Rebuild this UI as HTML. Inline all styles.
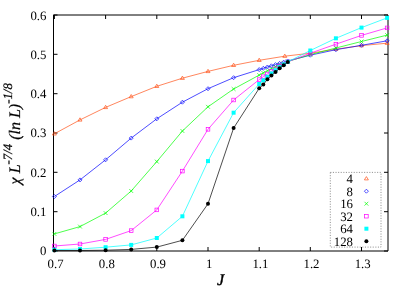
<!DOCTYPE html>
<html><head><meta charset="utf-8"><title>chart</title>
<style>html,body{margin:0;padding:0;background:#fff;}body{width:409px;height:286px;position:relative;overflow:hidden;font-family:"Liberation Serif",serif;}</style>
</head><body>
<svg width="409" height="286" viewBox="0 0 409 286" style="position:absolute;left:0;top:0;will-change:transform;opacity:0.999">
<rect width="409" height="286" fill="#fff"/>
<path d="M53.5 15.0 H388.0 V251.0 H53.5 Z" fill="none" stroke="#000" stroke-width="1"/>
<path d="M53.5 251.0 h4 M388.0 251.0 h-4 M53.5 211.7 h4 M388.0 211.7 h-4 M53.5 172.3 h4 M388.0 172.3 h-4 M53.5 133.0 h4 M388.0 133.0 h-4 M53.5 93.7 h4 M388.0 93.7 h-4 M53.5 54.3 h4 M388.0 54.3 h-4 M53.5 15.0 h4 M388.0 15.0 h-4 M54.4 251.0 v-4 M54.4 15.0 v4 M105.6 251.0 v-4 M105.6 15.0 v4 M156.8 251.0 v-4 M156.8 15.0 v4 M208.0 251.0 v-4 M208.0 15.0 v4 M259.2 251.0 v-4 M259.2 15.0 v4 M310.3 251.0 v-4 M310.3 15.0 v4 M361.5 251.0 v-4 M361.5 15.0 v4" stroke="#000" stroke-width="1" fill="none"/>
<g>
<polyline fill="none" stroke="#ff5218" stroke-width="0.70" points="54.4,133.8 80.0,119.9 105.6,107.4 131.2,96.6 156.8,86.3 182.4,78.2 208.0,71.4 233.6,65.3 259.2,60.3 284.8,56.2 310.3,53.2 335.9,49.2 361.5,45.6 387.1,43.2"/>
<path d="M54.4 131.7 L52.4 135.0 L56.4 135.0 Z" fill="none" stroke="#ff5218" stroke-width="0.7"/>
<path d="M80.0 117.8 L78.0 121.1 L82.0 121.1 Z" fill="none" stroke="#ff5218" stroke-width="0.7"/>
<path d="M105.6 105.3 L103.6 108.6 L107.6 108.6 Z" fill="none" stroke="#ff5218" stroke-width="0.7"/>
<path d="M131.2 94.5 L129.2 97.8 L133.2 97.8 Z" fill="none" stroke="#ff5218" stroke-width="0.7"/>
<path d="M156.8 84.2 L154.8 87.5 L158.8 87.5 Z" fill="none" stroke="#ff5218" stroke-width="0.7"/>
<path d="M182.4 76.1 L180.4 79.4 L184.4 79.4 Z" fill="none" stroke="#ff5218" stroke-width="0.7"/>
<path d="M208.0 69.3 L206.0 72.6 L210.0 72.6 Z" fill="none" stroke="#ff5218" stroke-width="0.7"/>
<path d="M233.6 63.2 L231.6 66.5 L235.6 66.5 Z" fill="none" stroke="#ff5218" stroke-width="0.7"/>
<path d="M259.2 58.2 L257.2 61.5 L261.2 61.5 Z" fill="none" stroke="#ff5218" stroke-width="0.7"/>
<path d="M284.8 54.1 L282.8 57.4 L286.8 57.4 Z" fill="none" stroke="#ff5218" stroke-width="0.7"/>
<path d="M310.3 51.1 L308.3 54.4 L312.3 54.4 Z" fill="none" stroke="#ff5218" stroke-width="0.7"/>
<path d="M335.9 47.1 L333.9 50.4 L337.9 50.4 Z" fill="none" stroke="#ff5218" stroke-width="0.7"/>
<path d="M361.5 43.5 L359.5 46.8 L363.5 46.8 Z" fill="none" stroke="#ff5218" stroke-width="0.7"/>
<path d="M387.1 41.1 L385.1 44.4 L389.1 44.4 Z" fill="none" stroke="#ff5218" stroke-width="0.7"/>
<polyline fill="none" stroke="#0000ff" stroke-width="0.70" points="54.4,196.5 80.0,179.9 105.6,159.8 131.2,138.1 156.8,118.8 182.4,102.2 208.0,88.7 233.6,77.7 259.2,69.6 263.3,68.3 267.4,67.0 271.4,65.8 275.5,64.6 279.6,63.4 283.7,62.2 287.8,61.0 310.3,55.2 335.9,49.7 361.5,45.3 387.1,40.8"/>
<path d="M54.4 194.5 L56.4 196.5 L54.4 198.5 L52.4 196.5 Z" fill="none" stroke="#0000ff" stroke-width="0.7"/>
<path d="M80.0 177.9 L82.0 179.9 L80.0 181.9 L78.0 179.9 Z" fill="none" stroke="#0000ff" stroke-width="0.7"/>
<path d="M105.6 157.8 L107.6 159.8 L105.6 161.8 L103.6 159.8 Z" fill="none" stroke="#0000ff" stroke-width="0.7"/>
<path d="M131.2 136.1 L133.2 138.1 L131.2 140.1 L129.2 138.1 Z" fill="none" stroke="#0000ff" stroke-width="0.7"/>
<path d="M156.8 116.8 L158.8 118.8 L156.8 120.8 L154.8 118.8 Z" fill="none" stroke="#0000ff" stroke-width="0.7"/>
<path d="M182.4 100.2 L184.4 102.2 L182.4 104.2 L180.4 102.2 Z" fill="none" stroke="#0000ff" stroke-width="0.7"/>
<path d="M208.0 86.7 L210.0 88.7 L208.0 90.7 L206.0 88.7 Z" fill="none" stroke="#0000ff" stroke-width="0.7"/>
<path d="M233.6 75.7 L235.6 77.7 L233.6 79.7 L231.6 77.7 Z" fill="none" stroke="#0000ff" stroke-width="0.7"/>
<path d="M259.2 67.6 L261.2 69.6 L259.2 71.6 L257.2 69.6 Z" fill="none" stroke="#0000ff" stroke-width="0.7"/>
<path d="M263.3 66.3 L265.3 68.3 L263.3 70.3 L261.3 68.3 Z" fill="none" stroke="#0000ff" stroke-width="0.7"/>
<path d="M267.4 65.0 L269.4 67.0 L267.4 69.0 L265.4 67.0 Z" fill="none" stroke="#0000ff" stroke-width="0.7"/>
<path d="M271.4 63.8 L273.4 65.8 L271.4 67.8 L269.4 65.8 Z" fill="none" stroke="#0000ff" stroke-width="0.7"/>
<path d="M275.5 62.6 L277.5 64.6 L275.5 66.6 L273.5 64.6 Z" fill="none" stroke="#0000ff" stroke-width="0.7"/>
<path d="M279.6 61.4 L281.6 63.4 L279.6 65.4 L277.6 63.4 Z" fill="none" stroke="#0000ff" stroke-width="0.7"/>
<path d="M283.7 60.2 L285.7 62.2 L283.7 64.2 L281.7 62.2 Z" fill="none" stroke="#0000ff" stroke-width="0.7"/>
<path d="M287.8 59.0 L289.8 61.0 L287.8 63.0 L285.8 61.0 Z" fill="none" stroke="#0000ff" stroke-width="0.7"/>
<path d="M310.3 53.2 L312.3 55.2 L310.3 57.2 L308.3 55.2 Z" fill="none" stroke="#0000ff" stroke-width="0.7"/>
<path d="M335.9 47.7 L337.9 49.7 L335.9 51.7 L333.9 49.7 Z" fill="none" stroke="#0000ff" stroke-width="0.7"/>
<path d="M361.5 43.3 L363.5 45.3 L361.5 47.3 L359.5 45.3 Z" fill="none" stroke="#0000ff" stroke-width="0.7"/>
<path d="M387.1 38.8 L389.1 40.8 L387.1 42.8 L385.1 40.8 Z" fill="none" stroke="#0000ff" stroke-width="0.7"/>
<polyline fill="none" stroke="#00ff00" stroke-width="0.70" points="54.4,233.9 80.0,226.6 105.6,213.1 131.2,191.0 156.8,161.6 182.4,131.0 208.0,106.8 233.6,89.0 259.2,75.1 263.3,72.9 267.4,70.8 271.4,68.8 275.5,66.9 279.6,65.0 283.7,63.2 287.8,61.5 310.3,54.6 335.9,48.0 361.5,41.5 387.1,35.1"/>
<path d="M52.5 232.0 L56.3 235.8 M52.5 235.8 L56.3 232.0" fill="none" stroke="#00ff00" stroke-width="0.7"/>
<path d="M78.1 224.7 L81.9 228.5 M78.1 228.5 L81.9 224.7" fill="none" stroke="#00ff00" stroke-width="0.7"/>
<path d="M103.7 211.2 L107.5 215.0 M103.7 215.0 L107.5 211.2" fill="none" stroke="#00ff00" stroke-width="0.7"/>
<path d="M129.3 189.1 L133.1 192.9 M129.3 192.9 L133.1 189.1" fill="none" stroke="#00ff00" stroke-width="0.7"/>
<path d="M154.9 159.7 L158.7 163.5 M154.9 163.5 L158.7 159.7" fill="none" stroke="#00ff00" stroke-width="0.7"/>
<path d="M180.5 129.1 L184.3 132.9 M180.5 132.9 L184.3 129.1" fill="none" stroke="#00ff00" stroke-width="0.7"/>
<path d="M206.1 104.9 L209.9 108.7 M206.1 108.7 L209.9 104.9" fill="none" stroke="#00ff00" stroke-width="0.7"/>
<path d="M231.7 87.1 L235.5 90.9 M231.7 90.9 L235.5 87.1" fill="none" stroke="#00ff00" stroke-width="0.7"/>
<path d="M257.3 73.2 L261.1 77.0 M257.3 77.0 L261.1 73.2" fill="none" stroke="#00ff00" stroke-width="0.7"/>
<path d="M261.4 71.0 L265.2 74.8 M261.4 74.8 L265.2 71.0" fill="none" stroke="#00ff00" stroke-width="0.7"/>
<path d="M265.5 68.9 L269.3 72.7 M265.5 72.7 L269.3 68.9" fill="none" stroke="#00ff00" stroke-width="0.7"/>
<path d="M269.5 66.9 L273.3 70.7 M269.5 70.7 L273.3 66.9" fill="none" stroke="#00ff00" stroke-width="0.7"/>
<path d="M273.6 65.0 L277.4 68.8 M273.6 68.8 L277.4 65.0" fill="none" stroke="#00ff00" stroke-width="0.7"/>
<path d="M277.7 63.1 L281.5 66.9 M277.7 66.9 L281.5 63.1" fill="none" stroke="#00ff00" stroke-width="0.7"/>
<path d="M281.8 61.3 L285.6 65.1 M281.8 65.1 L285.6 61.3" fill="none" stroke="#00ff00" stroke-width="0.7"/>
<path d="M285.9 59.6 L289.7 63.4 M285.9 63.4 L289.7 59.6" fill="none" stroke="#00ff00" stroke-width="0.7"/>
<path d="M308.4 52.7 L312.2 56.5 M308.4 56.5 L312.2 52.7" fill="none" stroke="#00ff00" stroke-width="0.7"/>
<path d="M334.0 46.1 L337.8 49.9 M334.0 49.9 L337.8 46.1" fill="none" stroke="#00ff00" stroke-width="0.7"/>
<path d="M359.6 39.6 L363.4 43.4 M359.6 43.4 L363.4 39.6" fill="none" stroke="#00ff00" stroke-width="0.7"/>
<path d="M385.2 33.2 L389.0 37.0 M385.2 37.0 L389.0 33.2" fill="none" stroke="#00ff00" stroke-width="0.7"/>
<polyline fill="none" stroke="#ff00ff" stroke-width="0.70" points="54.4,246.0 80.0,244.0 105.6,239.4 131.2,230.6 156.8,209.9 182.4,171.1 208.0,129.3 233.6,100.0 259.2,79.6 263.3,76.7 267.4,74.0 271.4,71.3 275.5,68.8 279.6,66.3 283.7,64.0 287.8,61.8 310.3,53.2 335.9,44.2 361.5,35.4 387.1,27.9"/>
<rect x="52.6" y="244.2" width="3.6" height="3.6" fill="none" stroke="#ff00ff" stroke-width="0.7"/>
<rect x="78.2" y="242.2" width="3.6" height="3.6" fill="none" stroke="#ff00ff" stroke-width="0.7"/>
<rect x="103.8" y="237.6" width="3.6" height="3.6" fill="none" stroke="#ff00ff" stroke-width="0.7"/>
<rect x="129.4" y="228.8" width="3.6" height="3.6" fill="none" stroke="#ff00ff" stroke-width="0.7"/>
<rect x="155.0" y="208.1" width="3.6" height="3.6" fill="none" stroke="#ff00ff" stroke-width="0.7"/>
<rect x="180.6" y="169.3" width="3.6" height="3.6" fill="none" stroke="#ff00ff" stroke-width="0.7"/>
<rect x="206.2" y="127.5" width="3.6" height="3.6" fill="none" stroke="#ff00ff" stroke-width="0.7"/>
<rect x="231.8" y="98.2" width="3.6" height="3.6" fill="none" stroke="#ff00ff" stroke-width="0.7"/>
<rect x="257.4" y="77.8" width="3.6" height="3.6" fill="none" stroke="#ff00ff" stroke-width="0.7"/>
<rect x="261.5" y="74.9" width="3.6" height="3.6" fill="none" stroke="#ff00ff" stroke-width="0.7"/>
<rect x="265.6" y="72.2" width="3.6" height="3.6" fill="none" stroke="#ff00ff" stroke-width="0.7"/>
<rect x="269.6" y="69.5" width="3.6" height="3.6" fill="none" stroke="#ff00ff" stroke-width="0.7"/>
<rect x="273.7" y="67.0" width="3.6" height="3.6" fill="none" stroke="#ff00ff" stroke-width="0.7"/>
<rect x="277.8" y="64.5" width="3.6" height="3.6" fill="none" stroke="#ff00ff" stroke-width="0.7"/>
<rect x="281.9" y="62.2" width="3.6" height="3.6" fill="none" stroke="#ff00ff" stroke-width="0.7"/>
<rect x="286.0" y="60.0" width="3.6" height="3.6" fill="none" stroke="#ff00ff" stroke-width="0.7"/>
<rect x="308.5" y="51.4" width="3.6" height="3.6" fill="none" stroke="#ff00ff" stroke-width="0.7"/>
<rect x="334.1" y="42.4" width="3.6" height="3.6" fill="none" stroke="#ff00ff" stroke-width="0.7"/>
<rect x="359.7" y="33.6" width="3.6" height="3.6" fill="none" stroke="#ff00ff" stroke-width="0.7"/>
<rect x="385.3" y="26.1" width="3.6" height="3.6" fill="none" stroke="#ff00ff" stroke-width="0.7"/>
<polyline fill="none" stroke="#00ffff" stroke-width="0.70" points="54.4,249.7 80.0,249.0 105.6,247.2 131.2,244.9 156.8,238.0 182.4,216.3 208.0,161.1 233.6,112.7 259.2,84.0 263.3,80.3 267.4,76.8 271.4,73.4 275.5,70.2 279.6,67.1 283.7,64.3 287.8,61.8 310.3,50.5 335.9,38.3 361.5,27.6 387.1,17.9"/>
<rect x="52.4" y="247.7" width="4.0" height="4.0" fill="#00ffff"/>
<rect x="78.0" y="247.0" width="4.0" height="4.0" fill="#00ffff"/>
<rect x="103.6" y="245.2" width="4.0" height="4.0" fill="#00ffff"/>
<rect x="129.2" y="242.9" width="4.0" height="4.0" fill="#00ffff"/>
<rect x="154.8" y="236.0" width="4.0" height="4.0" fill="#00ffff"/>
<rect x="180.4" y="214.3" width="4.0" height="4.0" fill="#00ffff"/>
<rect x="206.0" y="159.1" width="4.0" height="4.0" fill="#00ffff"/>
<rect x="231.6" y="110.7" width="4.0" height="4.0" fill="#00ffff"/>
<rect x="257.2" y="82.0" width="4.0" height="4.0" fill="#00ffff"/>
<rect x="261.3" y="78.3" width="4.0" height="4.0" fill="#00ffff"/>
<rect x="265.4" y="74.8" width="4.0" height="4.0" fill="#00ffff"/>
<rect x="269.4" y="71.4" width="4.0" height="4.0" fill="#00ffff"/>
<rect x="273.5" y="68.2" width="4.0" height="4.0" fill="#00ffff"/>
<rect x="277.6" y="65.1" width="4.0" height="4.0" fill="#00ffff"/>
<rect x="281.7" y="62.3" width="4.0" height="4.0" fill="#00ffff"/>
<rect x="285.8" y="59.8" width="4.0" height="4.0" fill="#00ffff"/>
<rect x="308.3" y="48.5" width="4.0" height="4.0" fill="#00ffff"/>
<rect x="333.9" y="36.3" width="4.0" height="4.0" fill="#00ffff"/>
<rect x="359.5" y="25.6" width="4.0" height="4.0" fill="#00ffff"/>
<rect x="385.1" y="15.9" width="4.0" height="4.0" fill="#00ffff"/>
<polyline fill="none" stroke="#000000" stroke-width="0.70" points="54.4,250.5 80.0,250.5 105.6,250.2 131.2,249.4 156.8,247.1 182.4,240.3 208.0,203.8 233.6,128.1 259.2,88.3 263.3,84.6 267.4,79.3 271.4,75.6 275.5,72.0 279.6,68.3 283.7,65.2 287.8,62.1"/>
<circle cx="54.4" cy="250.5" r="2.0" fill="#000000"/>
<circle cx="80.0" cy="250.5" r="2.0" fill="#000000"/>
<circle cx="105.6" cy="250.2" r="2.0" fill="#000000"/>
<circle cx="131.2" cy="249.4" r="2.0" fill="#000000"/>
<circle cx="156.8" cy="247.1" r="2.0" fill="#000000"/>
<circle cx="182.4" cy="240.3" r="2.0" fill="#000000"/>
<circle cx="208.0" cy="203.8" r="2.0" fill="#000000"/>
<circle cx="233.6" cy="128.1" r="2.0" fill="#000000"/>
<circle cx="259.2" cy="88.3" r="2.0" fill="#000000"/>
<circle cx="263.3" cy="84.6" r="2.0" fill="#000000"/>
<circle cx="267.4" cy="79.3" r="2.0" fill="#000000"/>
<circle cx="271.4" cy="75.6" r="2.0" fill="#000000"/>
<circle cx="275.5" cy="72.0" r="2.0" fill="#000000"/>
<circle cx="279.6" cy="68.3" r="2.0" fill="#000000"/>
<circle cx="283.7" cy="65.2" r="2.0" fill="#000000"/>
<circle cx="287.8" cy="62.1" r="2.0" fill="#000000"/>
</g>
<g font-family="'Liberation Serif', serif" font-size="12.8px" fill="#000" text-rendering="geometricPrecision">
<text x="46.4" y="255.2" text-anchor="end">0</text>
<text x="46.4" y="215.9" text-anchor="end">0.1</text>
<text x="46.4" y="176.7" text-anchor="end">0.2</text>
<text x="46.4" y="137.4" text-anchor="end">0.3</text>
<text x="46.4" y="98.1" text-anchor="end">0.4</text>
<text x="46.4" y="58.9" text-anchor="end">0.5</text>
<text x="46.4" y="19.6" text-anchor="end">0.6</text>
<text x="55.6" y="268" text-anchor="middle">0.7</text>
<text x="106.8" y="268" text-anchor="middle">0.8</text>
<text x="158.0" y="268" text-anchor="middle">0.9</text>
<text x="209.2" y="268" text-anchor="middle">1</text>
<text x="260.4" y="268" text-anchor="middle">1.1</text>
<text x="311.5" y="268" text-anchor="middle">1.2</text>
<text x="362.7" y="268" text-anchor="middle">1.3</text>
<text x="353" y="183.0" text-anchor="end">4</text>
<path d="M366.4 176.6 L364.4 179.9 L368.4 179.9 Z" fill="none" stroke="#ff5218" stroke-width="0.7"/>
<text x="353" y="195.5" text-anchor="end">8</text>
<path d="M366.4 189.2 L368.4 191.2 L366.4 193.2 L364.4 191.2 Z" fill="none" stroke="#0000ff" stroke-width="0.7"/>
<text x="353" y="208.0" text-anchor="end">16</text>
<path d="M364.5 201.8 L368.3 205.6 M364.5 205.6 L368.3 201.8" fill="none" stroke="#00ff00" stroke-width="0.7"/>
<text x="353" y="220.5" text-anchor="end">32</text>
<rect x="364.6" y="214.4" width="3.6" height="3.6" fill="none" stroke="#ff00ff" stroke-width="0.7"/>
<text x="353" y="233.0" text-anchor="end">64</text>
<rect x="364.4" y="226.7" width="4.0" height="4.0" fill="#00ffff"/>
<text x="353" y="245.5" text-anchor="end">128</text>
<circle cx="366.4" cy="241.2" r="2.0" fill="#000000"/>
</g>
<rect x="330.3" y="172.4" width="50.7" height="74.7" fill="none" stroke="#666" stroke-width="0.7" stroke-dasharray="1.1,1.5"/>
<text x="220.6" y="285" text-anchor="middle" font-size="16px" font-family="'Liberation Serif', serif" font-style="italic" fill="#000" stroke="#000" stroke-width="0.4" text-rendering="geometricPrecision">J</text>
<text transform="translate(20.3,184.4) rotate(-90)" font-size="16px" font-family="'Liberation Serif', serif" font-style="italic" fill="#000" stroke="#000" stroke-width="0.22" text-rendering="geometricPrecision">χ L<tspan font-size="12.8px" dy="-8.6">-7/4</tspan><tspan dy="8.6"> (ln L)</tspan><tspan font-size="12.8px" dy="-8.6">-1/8</tspan></text>
</svg>
</body></html>
